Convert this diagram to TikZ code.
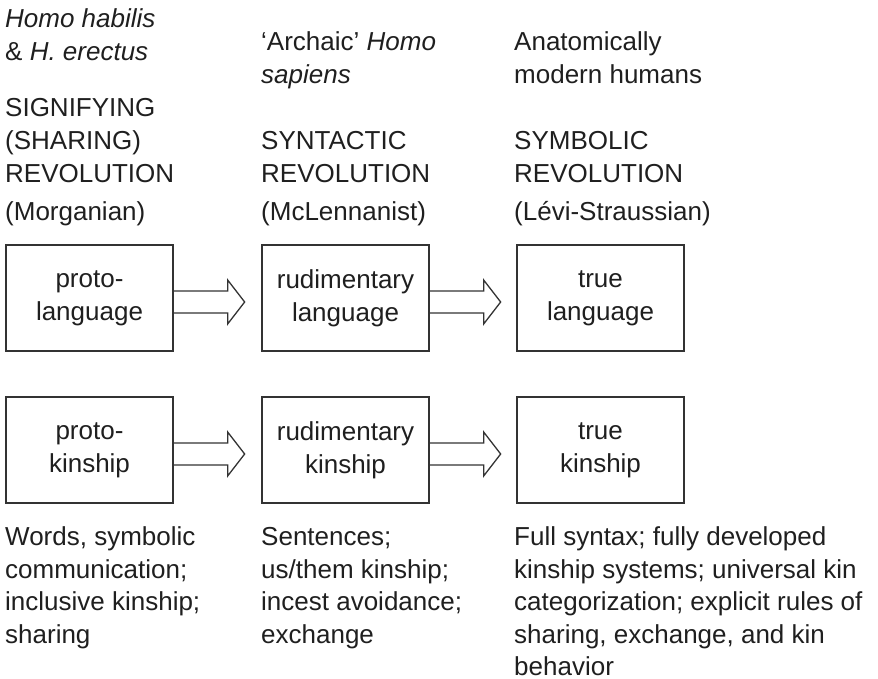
\documentclass[tikz,border=0pt]{standalone}
\usepackage{fontspec}
\setmainfont{Liberation Sans}
\begin{document}
\begin{tikzpicture}[x=1pt,y=-1pt,
  txt/.style={anchor=north west, inner sep=0pt, align=left, text=black!88,
    font=\fontsize{26}{33}\selectfont},
  stage/.style={draw=black!80, line width=1.3pt, minimum width=167pt, minimum height=106pt,
    inner sep=0pt, align=center, text=black!88, font=\fontsize{26}{33}\selectfont},
  hollowarrow/.style={draw=black!80, line width=1.3pt, line join=miter}]
\useasboundingbox (0,0) rectangle (878,679);
% column headings
\node[txt] (hab) at (5,4) {\strut\textit{Homo habilis}\\\& \textit{H. erectus}};
\node[txt] (sig) at (5,93) {\strut SIGNIFYING\\(SHARING)\\REVOLUTION};
\node[txt] (mor) at (5,197) {\strut(Morganian)};
\node[txt] (arc) at (261,27) {\strut‘Archaic’ \textit{Homo}\\\textit{sapiens}};
\node[txt] (syn) at (261,126) {\strut SYNTACTIC\\REVOLUTION};
\node[txt] (mcl) at (261,197) {\strut(McLennanist)};
\node[txt] (ana) at (514,27) {\strut Anatomically\\modern humans};
\node[txt] (sym) at (514,126) {\strut SYMBOLIC\\REVOLUTION};
\node[txt] (lev) at (514,197) {\strut(Lévi-Straussian)};
% language row
\node[stage] (la) at (89.5,298) {proto-\\language};
\node[stage] (lb) at (345.5,298) {rudimentary\\language};
\node[stage] (lc) at (600.5,298) {true\\language};
% kinship row
\node[stage] (ka) at (89.5,450) {proto-\\kinship};
\node[stage] (kb) at (345.5,450) {rudimentary\\kinship};
\node[stage] (kc) at (600.5,450) {true\\kinship};
% block arrows between stages
\draw[hollowarrow] ([yshift=-4pt]la.east) ++(0,-11) -- ++(54,0) -- ++(0,-11) -- ++(17,22) -- ++(-17,22) -- ++(0,-11) -- ++(-54,0);
\draw[hollowarrow] ([yshift=-4pt]lb.east) ++(0,-11) -- ++(54,0) -- ++(0,-11) -- ++(17,22) -- ++(-17,22) -- ++(0,-11) -- ++(-54,0);
\draw[hollowarrow] ([yshift=-4pt]ka.east) ++(0,-11) -- ++(54,0) -- ++(0,-11) -- ++(17,22) -- ++(-17,22) -- ++(0,-11) -- ++(-54,0);
\draw[hollowarrow] ([yshift=-4pt]kb.east) ++(0,-11) -- ++(54,0) -- ++(0,-11) -- ++(17,22) -- ++(-17,22) -- ++(0,-11) -- ++(-54,0);
% what each stage brings
\tikzset{txt/.append style={font=\fontsize{26}{32.5}\selectfont}}
\node[txt] (wrd) at (5,523) {\strut Words, symbolic\\communication;\\inclusive kinship;\\sharing};
\node[txt] (sen) at (261,523) {\strut Sentences;\\us/them kinship;\\incest avoidance;\\exchange};
\node[txt] (ful) at (514,523) {\strut Full syntax; fully developed\\kinship systems; universal kin\\categorization; explicit rules of\\sharing, exchange, and kin\\behavior};
\end{tikzpicture}
\end{document}
